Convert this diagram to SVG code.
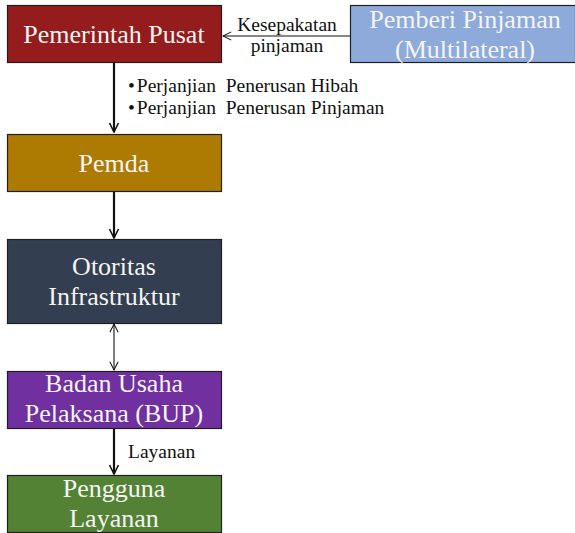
<svg xmlns="http://www.w3.org/2000/svg" width="575" height="533" viewBox="0 0 575 533">
  <style>
    text { font-family: 'Liberation Serif', 'DejaVu Serif', serif; }
    .box { stroke: #1f1f1f; stroke-width: 1.2; }
    .lbl { font-size: 26px; fill: #f4f4f4; text-anchor: middle; }
    .note { font-size: 19.5px; fill: #111; }
    .thick { stroke: #111; stroke-width: 2.2; fill: none; }
    .thin { stroke: #111; stroke-width: 1.1; fill: none; }
  </style>
  <defs>
    <marker id="vhead" viewBox="0 0 12 12" refX="11" refY="6" markerWidth="12" markerHeight="12" markerUnits="userSpaceOnUse" orient="auto-start-reverse">
      <path d="M2,1.5 L11,6 L2,10.5" fill="none" stroke="#111" stroke-width="1.6"/>
    </marker>
    <marker id="vheadThin" viewBox="0 0 12 12" refX="11" refY="6" markerWidth="11" markerHeight="11" markerUnits="userSpaceOnUse" orient="auto-start-reverse">
      <path d="M2,1.5 L11,6 L2,10.5" fill="none" stroke="#111" stroke-width="1.1"/>
    </marker>
  </defs>

  <rect width="575" height="533" fill="#ffffff"/>

  <!-- arrows between the boxes -->
  <g id="connectors">
    <line class="thin" x1="350" y1="36" x2="223" y2="36" marker-end="url(#vheadThin)"/>
    <line class="thick" x1="114" y1="63" x2="114" y2="132" marker-end="url(#vhead)"/>
    <line class="thick" x1="114" y1="192" x2="114" y2="238" marker-end="url(#vhead)"/>
    <line class="thin" x1="114" y1="324" x2="114" y2="370" marker-start="url(#vheadThin)" marker-end="url(#vheadThin)"/>
    <line class="thick" x1="114" y1="428" x2="114" y2="474" marker-end="url(#vhead)"/>
  </g>

  <!-- connector labels -->
  <g id="labels">
    <text class="note" x="287" y="31" text-anchor="middle">Kesepakatan</text>
    <text class="note" x="287" y="52" text-anchor="middle">pinjaman</text>
    <text class="note" x="128" y="92" xml:space="preserve">•<tspan dx="2">Perjanjian  Penerusan Hibah</tspan></text>
    <text class="note" x="128" y="114" xml:space="preserve">•<tspan dx="2">Perjanjian  Penerusan Pinjaman</tspan></text>
    <text class="note" x="128" y="458">Layanan</text>
  </g>

  <g id="pemerintah-pusat">
    <rect class="box" x="7.5" y="5.5" width="214" height="57" fill="#941c1c"/>
    <text class="lbl" x="114" y="43">Pemerintah Pusat</text>
  </g>

  <g id="pemberi-pinjaman">
    <rect class="box" x="350.5" y="5.5" width="225" height="57" fill="#8eaadb" stroke="#3e4f6a"/>
    <text class="lbl" x="465" y="28">Pemberi Pinjaman</text>
    <text class="lbl" x="465" y="58">(Multilateral)</text>
  </g>

  <g id="pemda">
    <rect class="box" x="7.5" y="134.5" width="214" height="57" fill="#ad7b02"/>
    <text class="lbl" x="114" y="172">Pemda</text>
  </g>

  <g id="otoritas-infrastruktur">
    <rect class="box" x="7.5" y="239.5" width="214" height="84" fill="#333f50"/>
    <text class="lbl" x="114" y="275">Otoritas</text>
    <text class="lbl" x="114" y="305">Infrastruktur</text>
  </g>

  <g id="badan-usaha-pelaksana">
    <rect class="box" x="7.5" y="371.5" width="214" height="57" fill="#7030a0"/>
    <text class="lbl" x="114" y="392">Badan Usaha</text>
    <text class="lbl" x="114" y="422">Pelaksana (BUP)</text>
  </g>

  <g id="pengguna-layanan">
    <rect class="box" x="7.5" y="475.5" width="214" height="57" fill="#548235"/>
    <text class="lbl" x="114" y="497">Pengguna</text>
    <text class="lbl" x="114" y="527">Layanan</text>
  </g>
</svg>
